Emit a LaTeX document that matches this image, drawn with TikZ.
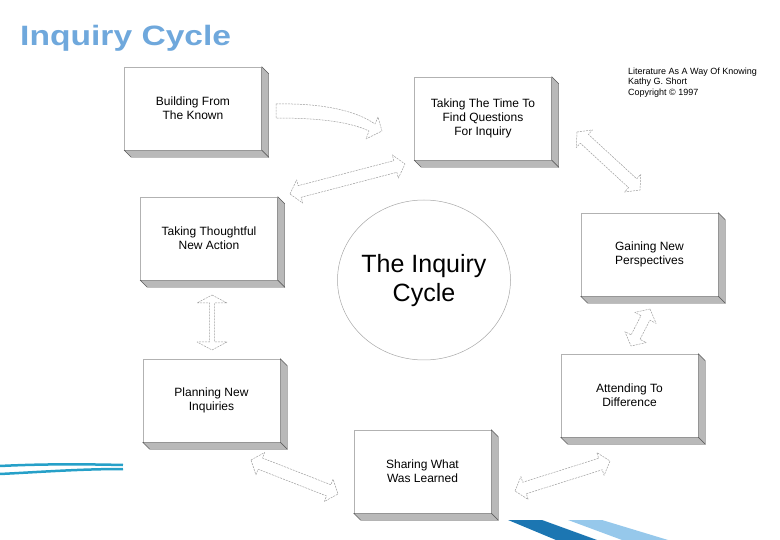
\documentclass[tikz,border=0pt]{standalone}
\usepackage{fontspec}
\setmainfont{Liberation Sans}
\usetikzlibrary{calc,shapes.geometric}

\definecolor{titleblue}{RGB}{111,168,220}
\definecolor{swooshblue}{RGB}{38,160,200}
\definecolor{stripedark}{RGB}{28,118,178}
\definecolor{stripelight}{RGB}{150,200,235}

\tikzset{
  stagebox/.style={draw=gray!60, fill=white, line width=0.5pt,
    minimum width=137pt, minimum height=83pt, align=center,
    font=\fontsize{12}{13.8}\selectfont, inner sep=2pt},
  boxside/.style={fill=gray!55, draw=gray!70!black, line width=0.4pt},
  blockarrow/.style={draw=gray!75, fill=white, line width=0.5pt,
    dash pattern=on 2pt off 1pt, line join=round}
}

% head sizes of the hollow double arrows
\def\headw{12pt}
\def\headl{10pt}
\newcommand{\dblarrow}[3][6pt]{%
  \draw[blockarrow] (#2)
    -- ($(#2)!\headl!(#3)!\headw!90:(#3)$) -- ($(#2)!\headl!(#3)!#1!90:(#3)$)
    -- ($(#3)!\headl!(#2)!#1!-90:(#2)$) -- ($(#3)!\headl!(#2)!\headw!-90:(#2)$)
    -- (#3)
    -- ($(#3)!\headl!(#2)!\headw!90:(#2)$) -- ($(#3)!\headl!(#2)!#1!90:(#2)$)
    -- ($(#2)!\headl!(#3)!#1!-90:(#3)$) -- ($(#2)!\headl!(#3)!\headw!-90:(#3)$)
    -- cycle;}

\begin{document}
\begin{tikzpicture}[x=1pt,y=-1pt]
  \useasboundingbox (0,0) rectangle (780,540);

  % title and credit
  \node[anchor=base west, inner sep=0pt, text=titleblue,
    font=\fontsize{28}{30}\selectfont\bfseries] (title) at (20,46)
    {\scalebox{1.2}[1]{Inquiry Cycle}};
  \node[anchor=north west, inner sep=0pt, align=left,
    font=\fontsize{9}{10.2}\selectfont] (credit) at (628,68)
    {Literature As A Way Of Knowing\\Kathy G. Short\\Copyright \textcopyright{} 1997};

  % the stages
  \node[stagebox] (known) at (193,108.5) {Building From\\The Known};
  \node[stagebox] (questions) at (483,118.5) {Taking The Time To\\Find Questions\\For Inquiry};
  \node[stagebox] (perspectives) at (649.5,254.5) {Gaining New\\Perspectives};
  \node[stagebox] (difference) at (629.5,395.5) {Attending To\\Difference};
  \node[stagebox] (learned) at (422.5,471.5) {Sharing What\\Was Learned};
  \node[stagebox] (planning) at (211.5,400.5) {Planning New\\Inquiries};
  \node[stagebox] (thoughtful) at (209,238.5) {Taking Thoughtful\\New Action};

  \foreach \n in {known,questions,perspectives,difference,learned,planning,thoughtful}{
    \draw[boxside] (\n.north east) -- ++(7,7) -- ($(\n.south east)+(7,7)$) -- (\n.south east) -- cycle;
    \draw[boxside] (\n.south west) -- ++(7,7) -- ($(\n.south east)+(7,7)$) -- (\n.south east) -- cycle;
  }

  % centre
  \node[draw=gray!70, line width=0.5pt, ellipse, minimum width=173pt,
    minimum height=160pt] (cycle) at (424,280) {};
  \node[align=center, font=\fontsize{25}{29}\selectfont] (cycletext) at (424,281)
    {The Inquiry\\Cycle};

  % arrow ends
  \coordinate (qt1) at (290,194);
  \coordinate (qt2) at (405,164);
  \coordinate (qp1) at (577,132);
  \coordinate (qp2) at (640,190);
  \coordinate (pd1) at (650,309);
  \coordinate (pd2) at (631,346);
  \coordinate (tp1) at (212,295);
  \coordinate (tp2) at (212,350);
  \coordinate (pl1) at (251,460);
  \coordinate (pl2) at (338,494);
  \coordinate (ld1) at (515,491);
  \coordinate (ld2) at (610,461);

  % curved arrow out of the first stage
  \draw[blockarrow] (276,104) .. controls (320,103) and (355,110) .. (375,124)
    -- (378,117) -- (382,131) -- (366,139) -- (369,131)
    .. controls (350,122) and (320,118) .. (276,118) -- cycle;

  \dblarrow{qt1}{qt2}
  \dblarrow{qp1}{qp2}
  \dblarrow[5pt]{pd1}{pd2}
  {\def\headw{15pt}\def\headl{8pt}\dblarrow[2.5pt]{tp1}{tp2}}
  \dblarrow{pl1}{pl2}
  \dblarrow{ld1}{ld2}

  % slide decoration
  \draw[swooshblue, line width=2.5pt] (0,466) .. controls (40,464) and (80,464) .. (123,465);
  \draw[swooshblue, line width=2.5pt] (0,474) .. controls (40,472) and (80,469) .. (123,469);
  \fill[stripedark] (508,520) -- (542,520) -- (597,540) -- (556,540) -- cycle;
  \fill[stripelight] (568,520) -- (602,520) -- (668,540) -- (622,540) -- cycle;
\end{tikzpicture}
\end{document}
